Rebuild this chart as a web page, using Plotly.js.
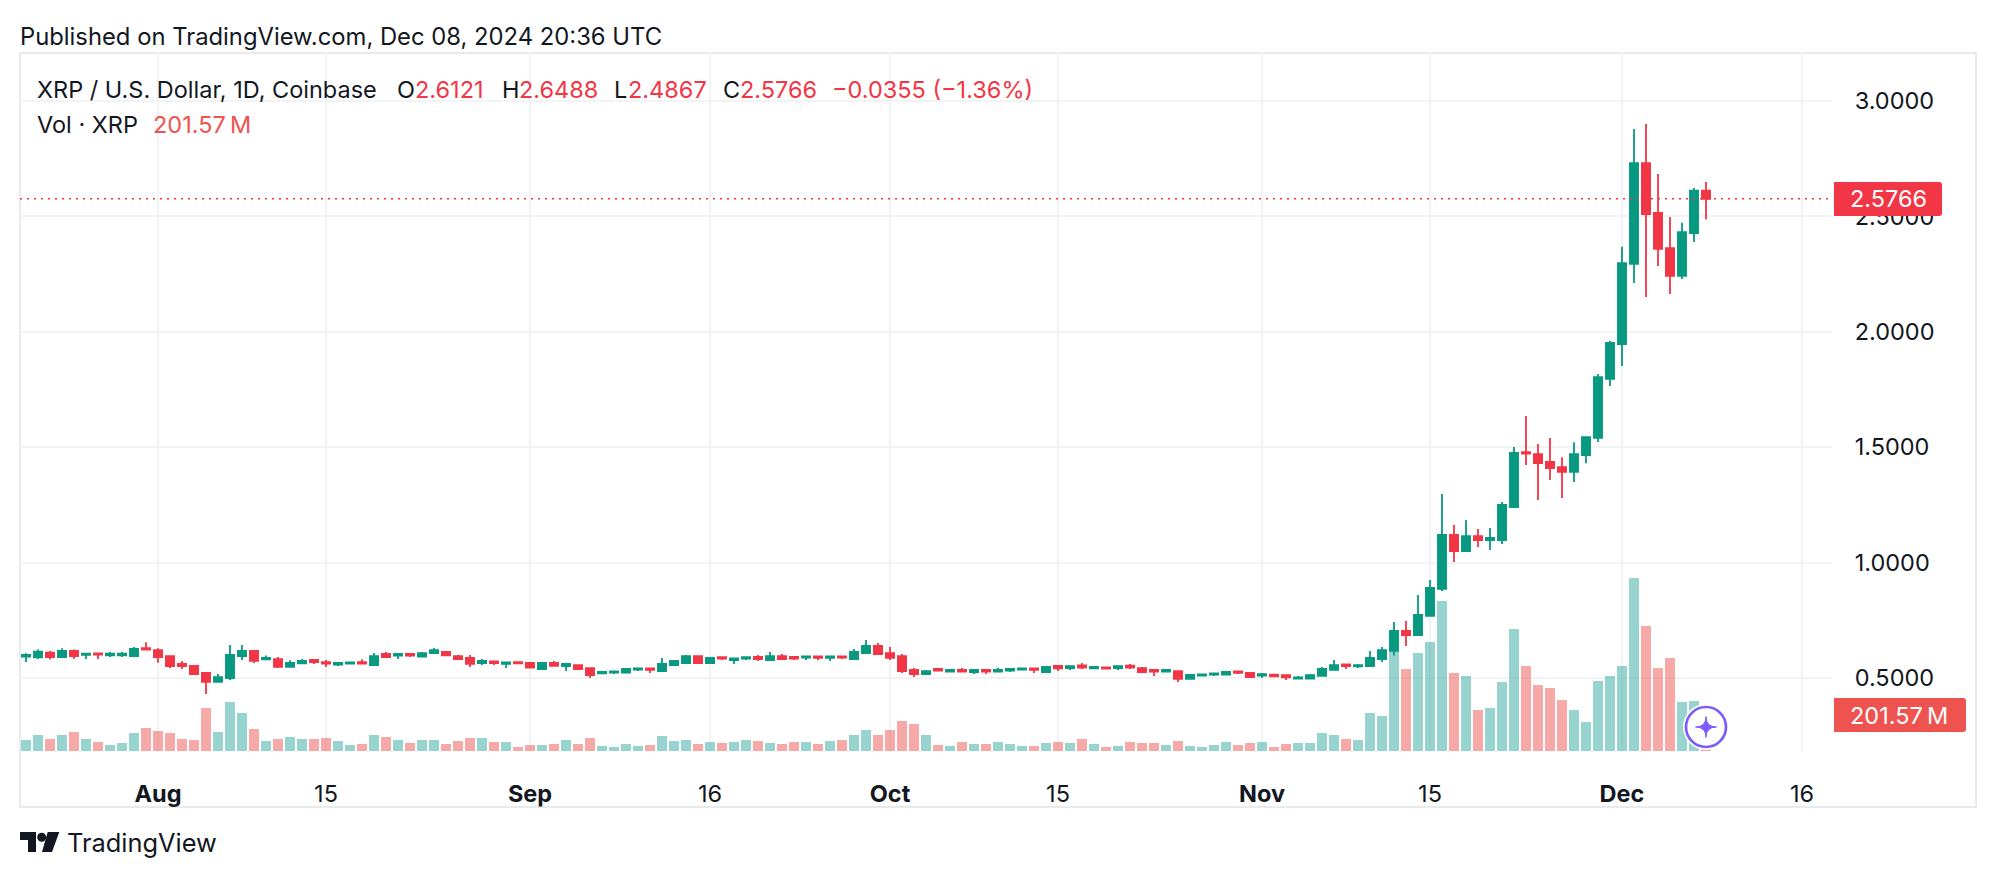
<!DOCTYPE html>
<html><head><meta charset="utf-8">
<script src="https://cdn.plot.ly/plotly-3.0.1.min.js"></script>
<style>html,body{margin:0;padding:0;background:#fff}#chart{width:1996px;height:878px}</style>
</head><body><div id="chart"></div>
<script>
const dates = [
'2024-07-21','2024-07-22','2024-07-23','2024-07-24','2024-07-25','2024-07-26','2024-07-27','2024-07-28','2024-07-29','2024-07-30','2024-07-31',
'2024-08-01','2024-08-02','2024-08-03','2024-08-04','2024-08-05','2024-08-06','2024-08-07','2024-08-08','2024-08-09','2024-08-10','2024-08-11','2024-08-12','2024-08-13','2024-08-14','2024-08-15','2024-08-16','2024-08-17','2024-08-18','2024-08-19','2024-08-20','2024-08-21','2024-08-22','2024-08-23','2024-08-24','2024-08-25','2024-08-26','2024-08-27','2024-08-28','2024-08-29','2024-08-30','2024-08-31',
'2024-09-01','2024-09-02','2024-09-03','2024-09-04','2024-09-05','2024-09-06','2024-09-07','2024-09-08','2024-09-09','2024-09-10','2024-09-11','2024-09-12','2024-09-13','2024-09-14','2024-09-15','2024-09-16','2024-09-17','2024-09-18','2024-09-19','2024-09-20','2024-09-21','2024-09-22','2024-09-23','2024-09-24','2024-09-25','2024-09-26','2024-09-27','2024-09-28','2024-09-29','2024-09-30',
'2024-10-01','2024-10-02','2024-10-03','2024-10-04','2024-10-05','2024-10-06','2024-10-07','2024-10-08','2024-10-09','2024-10-10','2024-10-11','2024-10-12','2024-10-13','2024-10-14','2024-10-15','2024-10-16','2024-10-17','2024-10-18','2024-10-19','2024-10-20','2024-10-21','2024-10-22','2024-10-23','2024-10-24','2024-10-25','2024-10-26','2024-10-27','2024-10-28','2024-10-29','2024-10-30','2024-10-31',
'2024-11-01','2024-11-02','2024-11-03','2024-11-04','2024-11-05','2024-11-06','2024-11-07','2024-11-08','2024-11-09','2024-11-10','2024-11-11','2024-11-12','2024-11-13','2024-11-14','2024-11-15','2024-11-16','2024-11-17','2024-11-18','2024-11-19','2024-11-20','2024-11-21','2024-11-22','2024-11-23','2024-11-24','2024-11-25','2024-11-26','2024-11-27','2024-11-28','2024-11-29','2024-11-30',
'2024-12-01','2024-12-02','2024-12-03','2024-12-04','2024-12-05','2024-12-06','2024-12-07','2024-12-08'];

const open = [.593,.590,.610,.591,.617,.600,.607,.598,.598,.595,.629,.621,.595,.561,.552,.522,.483,.500,.595,.617,.581,.582,.548,.564,.578,.569,.558,.562,.569,.556,.604,.597,.604,.593,.608,.613,.595,.587,.565,.572,.561,.569,.565,.539,.565,.552,.556,.543,.520,.523,.523,.536,.542,.530,.556,.565,.595,.565,.590,.578,.584,.591,.578,.595,.591,.588,.594,.587,.594,.582,.608,.639,.608,.595,.535,.517,.539,.528,.535,.526,.535,.528,.532,.536,.542,.526,.552,.543,.555,.542,.546,.543,.553,.543,.535,.528,.530,.496,.510,.515,.515,.529,.522,.510,.515,.512,.497,.497,.509,.535,.559,.551,.552,.582,.618,.704,.686,.769,.886,1.120,1.050,1.115,1.098,1.098,1.241,1.479,1.470,1.436,1.414,1.393,1.466,1.540,1.796,1.947,2.294,2.731,2.515,2.363,2.242,2.428,2.6121];
const high = [.607,.624,.617,.629,.624,.607,.607,.613,.613,.634,.655,.629,.595,.574,.556,.526,.517,.643,.643,.621,.597,.591,.577,.582,.582,.578,.569,.568,.581,.608,.613,.604,.604,.613,.630,.613,.600,.600,.582,.574,.569,.569,.566,.566,.574,.565,.556,.543,.530,.530,.543,.543,.543,.587,.578,.600,.595,.591,.591,.587,.591,.600,.613,.604,.595,.595,.595,.595,.595,.626,.665,.652,.634,.604,.543,.535,.539,.536,.543,.536,.535,.543,.543,.543,.543,.552,.552,.552,.565,.552,.548,.552,.561,.548,.535,.535,.530,.513,.517,.522,.530,.530,.522,.522,.517,.513,.509,.517,.548,.578,.561,.561,.617,.634,.743,.747,.860,.925,1.297,1.163,1.185,1.146,1.150,1.263,1.501,1.635,1.514,1.540,1.457,1.522,1.548,1.817,1.960,2.368,2.879,2.900,2.684,2.497,2.472,2.623,2.6488];
const low = [.569,.582,.580,.591,.582,.582,.582,.591,.591,.595,.621,.566,.543,.539,.513,.431,.483,.491,.578,.565,.578,.543,.548,.561,.561,.548,.552,.562,.561,.556,.587,.582,.591,.591,.604,.595,.578,.548,.556,.556,.543,.564,.543,.539,.552,.530,.539,.500,.517,.517,.522,.530,.522,.530,.552,.565,.565,.561,.578,.561,.578,.574,.578,.578,.578,.578,.578,.574,.582,.582,.604,.604,.578,.522,.504,.513,.530,.526,.526,.517,.517,.526,.526,.535,.522,.526,.530,.535,.539,.539,.539,.535,.539,.526,.509,.528,.483,.496,.509,.509,.513,.517,.500,.500,.504,.491,.496,.496,.509,.535,.539,.543,.552,.569,.597,.639,.682,.769,.877,1.003,1.050,1.068,1.055,1.081,1.241,1.423,1.271,1.358,1.280,1.349,1.431,1.523,1.765,1.852,2.212,2.151,2.285,2.164,2.229,2.389,2.4867];
const close = [.600,.614,.591,.617,.595,.606,.601,.606,.606,.626,.623,.591,.552,.552,.517,.483,.504,.600,.617,.574,.587,.548,.565,.574,.569,.562,.565,.568,.562,.595,.591,.604,.597,.608,.621,.598,.582,.561,.574,.565,.568,.564,.545,.565,.553,.561,.539,.513,.526,.529,.539,.542,.535,.561,.574,.595,.565,.587,.584,.585,.590,.582,.595,.582,.584,.594,.587,.594,.588,.613,.639,.604,.587,.530,.517,.530,.532,.535,.528,.535,.528,.535,.539,.542,.535,.548,.542,.551,.545,.548,.541,.551,.545,.526,.528,.535,.496,.513,.516,.520,.526,.522,.504,.517,.507,.503,.503,.512,.539,.556,.552,.556,.587,.621,.704,.686,.773,.890,1.120,1.050,1.115,1.098,1.107,1.250,1.475,1.472,1.431,1.410,1.393,1.470,1.544,1.804,1.952,2.298,2.731,2.510,2.359,2.242,2.432,2.612,2.5766];
const volumeM = [62,90,67,90,106,67,50,34,45,101,129,112,101,67,62,241,106,274,213,123,56,67,78,67,67,73,56,34,39,90,78,62,45,62,62,39,56,73,73,50,50,22,34,34,39,62,39,73,28,22,39,28,34,84,56,62,39,50,45,50,62,56,45,39,50,50,39,56,62,90,118,90,118,168,151,90,34,28,50,39,39,50,39,28,28,45,50,45,67,39,22,28,50,45,45,34,56,28,22,34,50,34,45,50,22,39,45,45,101,90,67,62,213,196,560,459,549,610,840,437,420,230,241,386,683,476,370,353,286,230,162,392,420,476,969,700,465,521,274,280,201.57];

const tickDates = ['2024-08-01','2024-08-15','2024-09-01','2024-09-16','2024-10-01','2024-10-15','2024-11-01','2024-11-15','2024-12-01','2024-12-16'];
const tickLabels = ['<b>Aug</b>','15','<b>Sep</b>','16','<b>Oct</b>','15','<b>Nov</b>','15','<b>Dec</b>','16'];
const priceTicks = [0.5,1.0,1.5,2.0,2.5,3.0];

const GREEN='#089981', RED='#F23645', VRED='#EF5350', INK='#131722', GRID='#f2f3f5', FRAME='#e9eaec', PURPLE='#7B5CFA';
const FONT='Inter, "Noto Sans", sans-serif';
const L=20,R=1832,T=53,B=752;
const X=p=>(p-L)/(R-L), Y=p=>1-(p-T)/(B-T);
const DAY=86400000;

function rr(x0,y0,x1,y1,r){
  return `M${X(x0)},${Y(y0)} L${X(x1-r)},${Y(y0)} Q${X(x1)},${Y(y0)} ${X(x1)},${Y(y0+r)} L${X(x1)},${Y(y1-r)} Q${X(x1)},${Y(y1)} ${X(x1-r)},${Y(y1)} L${X(x0)},${Y(y1)} Z`;
}
function star(cx,cy,r){
  return `M${X(cx)},${Y(cy-r)} Q${X(cx)},${Y(cy)} ${X(cx+r)},${Y(cy)} Q${X(cx)},${Y(cy)} ${X(cx)},${Y(cy+r)} Q${X(cx)},${Y(cy)} ${X(cx-r)},${Y(cy)} Q${X(cx)},${Y(cy)} ${X(cx)},${Y(cy-r)} Z`;
}
function poly(pts){ return 'M'+pts.map(p=>`${X(p[0])},${Y(p[1])}`).join(' L')+' Z'; }

const n=dates.length, last=n-1;
const volColors=close.map((c,i)=> c>=open[i] ? 'rgba(38,166,154,0.48)' : 'rgba(239,83,80,0.5)');

const traces=[
 {type:'bar',x:dates,y:volumeM,xaxis:'x',yaxis:'y',width:DAY*10/12,marker:{color:volColors,line:{width:0}},hoverinfo:'skip'},
 {type:'candlestick',x:dates,open:open,high:high,low:low,close:close,xaxis:'x',yaxis:'y2',whiskerwidth:0,
  increasing:{line:{color:GREEN,width:1.8},fillcolor:GREEN},decreasing:{line:{color:RED,width:1.8},fillcolor:RED},hoverinfo:'skip'}
];

const txt=(x,y,text,color,size,extra)=>Object.assign({xref:'paper',yref:'paper',x:X(x),y:Y(y),text:text,showarrow:false,xanchor:'left',yanchor:'middle',borderpad:0,
  font:{family:FONT,size:size||23.5,color:color||INK}},extra||{});

const annotations=[
 txt(19,36,'Published on TradingView.com, Dec 08, 2024 20:36 UTC',INK,23.8),
 txt(35.5,89,'XRP / U.S. Dollar, 1D, Coinbase'),
 txt(396,89,'O'), txt(414,89,open[last].toFixed(4),RED),
 txt(501,89,'H'), txt(518,89,high[last].toFixed(4),RED),
 txt(613,89,'L'), txt(627,89,low[last].toFixed(4),RED),
 txt(722,89,'C'), txt(739,89,close[last].toFixed(4),RED),
 txt(831,89,'\u22120.0355 (\u22121.36%)',RED),
 txt(35.5,124,'Vol \u00b7 XRP'),
 txt(152,124,'201.57\u2009M',VRED),
 txt(1849,199,close[last].toFixed(4),'#ffffff',23.5),
 txt(1849,715,'201.57\u2009M','#ffffff',23.5),
 txt(66,843,'TradingView',INK,25.4)
];

const shapes=[
 {type:'rect',xref:'paper',yref:'paper',x0:X(20),x1:X(1976),y0:Y(53),y1:Y(807),line:{color:FRAME,width:2},fillcolor:'rgba(0,0,0,0)',layer:'below'},
 {type:'line',xref:'paper',yref:'y2',x0:0,x1:1,y0:close[last],y1:close[last],line:{color:RED,width:1.5,dash:'2px,5px'}},
 {type:'path',xref:'paper',yref:'paper',path:rr(1834,182,1942,216,3),fillcolor:RED,line:{width:0}},
 {type:'path',xref:'paper',yref:'paper',path:rr(1834,698,1966,732,3),fillcolor:VRED,line:{width:0}},
 {type:'circle',xref:'paper',yref:'paper',x0:X(1683),x1:X(1729),y0:Y(704),y1:Y(750),fillcolor:'#ffffff',line:{width:0}},
 {type:'circle',xref:'paper',yref:'paper',x0:X(1686),x1:X(1726),y0:Y(707),y1:Y(747),fillcolor:'#ffffff',line:{color:PURPLE,width:2.7}},
 {type:'path',xref:'paper',yref:'paper',path:star(1706,727,10.5),fillcolor:PURPLE,line:{color:PURPLE,width:1}},
 {type:'path',xref:'paper',yref:'paper',path:poly([[20,832],[36,832],[36,852],[28,852],[28,840],[20,840]]),fillcolor:INK,line:{width:0}},
 {type:'circle',xref:'paper',yref:'paper',x0:X(37.2),x1:X(46.2),y0:Y(832.8),y1:Y(841.8),fillcolor:INK,line:{width:0}},
 {type:'path',xref:'paper',yref:'paper',path:poly([[47.7,832],[59.3,832],[52,852],[42,852]]),fillcolor:INK,line:{width:0}}
];

const layout={
 width:1996,height:878,margin:{l:L,r:1996-R,t:T,b:878-B,pad:0},
 paper_bgcolor:'#fff',plot_bgcolor:'#fff',showlegend:false,hovermode:false,dragmode:false,bargap:0,boxgap:0.03,
 font:{family:FONT,color:INK,size:23.5},
 xaxis:{type:'date',range:['2024-07-20 12:00','2024-12-18 12:00'],tickmode:'array',tickvals:tickDates,ticktext:tickLabels,
   showgrid:true,gridcolor:GRID,gridwidth:2,zeroline:false,showline:false,ticks:'outside',ticklen:21,tickcolor:'rgba(0,0,0,0)',
   tickfont:{family:FONT,size:23.5,color:INK},rangeslider:{visible:false},fixedrange:true},
 yaxis:{range:[-5.6,3909],visible:false,fixedrange:true},
 yaxis2:{overlaying:'y',side:'right',anchor:'x',range:[0.1794,3.208],tickmode:'array',tickvals:priceTicks,tickformat:'.4f',
   showgrid:true,gridcolor:GRID,gridwidth:2,zeroline:false,showline:false,ticks:'outside',ticklen:17,tickcolor:'rgba(0,0,0,0)',
   tickfont:{family:FONT,size:23.5,color:INK},fixedrange:true},
 shapes:shapes,annotations:annotations
};
Plotly.newPlot('chart',traces,layout,{displayModeBar:false,staticPlot:true});
</script></body></html>
